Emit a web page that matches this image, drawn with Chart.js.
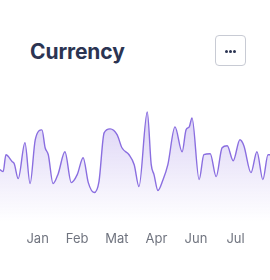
<!DOCTYPE html>
<html>
<head>
<meta charset="utf-8">
<script src="https://cdn.jsdelivr.net/npm/chart.js@4/dist/chart.umd.min.js"></script>
<style>
  html, body { margin: 0; padding: 0; background: #ffffff; }
  body { width: 270px; height: 280px; position: relative; overflow: hidden; font-family: Inter, 'Noto Sans', sans-serif; }
  .title { position: absolute; left: 30px; top: 39px; font-size: 21px; font-weight: 700; color: #2b3452; letter-spacing: -0.1px; }
  .more { position: absolute; left: 215px; top: 35px; width: 29px; height: 29px; border: 1px solid #c8cbd4; border-radius: 4px; }
  .more span { position: absolute; top: 14px; width: 3px; height: 3px; border-radius: 50%; background: #2b3452; }
  .chart-box { position: absolute; left: 0; top: 100px; width: 270px; height: 160px; }
</style>
</head>
<body>
<div class="title">Currency</div>
<div class="more"><span style="left:9px"></span><span style="left:13px"></span><span style="left:17px"></span></div>
<div class="chart-box"><canvas id="currency"></canvas></div>
<script>
  // month ticks
  var months = ['Jan', 'Feb', 'Mat', 'Apr', 'Jun', 'Jul'];

  // position along the axis, in months from Jan
  var dates = [
    -0.95, -0.87, -0.80, -0.64, -0.59, -0.49, -0.32, -0.19, -0.06, 0.11, 0.19, 0.27, 0.39,
    0.52, 0.69, 0.85, 1.00, 1.15, 1.28, 1.43, 1.55, 1.68, 1.83, 2.01, 2.13, 2.31, 2.44,
    2.56, 2.77, 2.87, 2.94, 3.04, 3.16, 3.29, 3.47, 3.65, 3.75, 3.83, 3.90, 4.08, 4.20,
    4.36, 4.51, 4.66, 4.79, 4.94, 5.11, 5.21, 5.39, 5.54, 5.69, 5.82, 5.87
  ];
  var values = [
    52, 50, 67, 60, 58, 43, 79, 38, 82, 92, 74, 67, 38,
    48, 70, 39, 47, 64, 39, 29, 40, 89, 93, 87, 74, 67, 57,
    35, 110, 57, 47, 31, 41, 57, 95, 70, 92, 95, 104, 42, 67,
    68, 45, 74, 76, 61, 82, 76, 49, 70, 42, 67, 67
  ];

  var LINE = '#8a6ee0';

  function buildPoints() {
    return dates.map(function (d, i) { return { x: d, y: values[i] }; });
  }

  var canvas = document.getElementById('currency');
  var ctx = canvas.getContext('2d');
  var gradient = ctx.createLinearGradient(0, 0, 0, 122);
  gradient.addColorStop(0, 'rgba(138,110,224,0.34)');
  gradient.addColorStop(0.55, 'rgba(138,110,224,0.15)');
  gradient.addColorStop(1, 'rgba(138,110,224,0.00)');

  new Chart(canvas, {
    type: 'line',
    data: {
      datasets: [{
        label: 'Currency',
        data: buildPoints(),
        borderColor: LINE,
        backgroundColor: gradient,
        fill: 'start',
        cubicInterpolationMode: 'monotone',
        pointRadius: 0,
        borderWidth: 1.4
      }]
    },
    options: {
      responsive: true,
      maintainAspectRatio: false,
      animation: false,
      layout: { padding: { top: 0, bottom: 3, left: 0, right: 0 } },
      plugins: { legend: { display: false }, tooltip: { enabled: false } },
      scales: {
        x: {
          type: 'linear',
          min: -0.95,
          max: 5.87,
          grid: { display: false, drawTicks: false },
          border: { display: false },
          afterBuildTicks: function (axis) {
            axis.ticks = months.map(function (_, i) { return { value: i }; });
          },
          ticks: {
            color: '#70747f',
            padding: 10,
            autoSkip: false,
            maxRotation: 0,
            font: { family: 'Inter', size: 13 },
            callback: function (v) { return months[v] || ''; }
          }
        },
        y: {
          display: false,
          min: 0,
          max: 122
        }
      }
    }
  });
</script>
</body>
</html>
